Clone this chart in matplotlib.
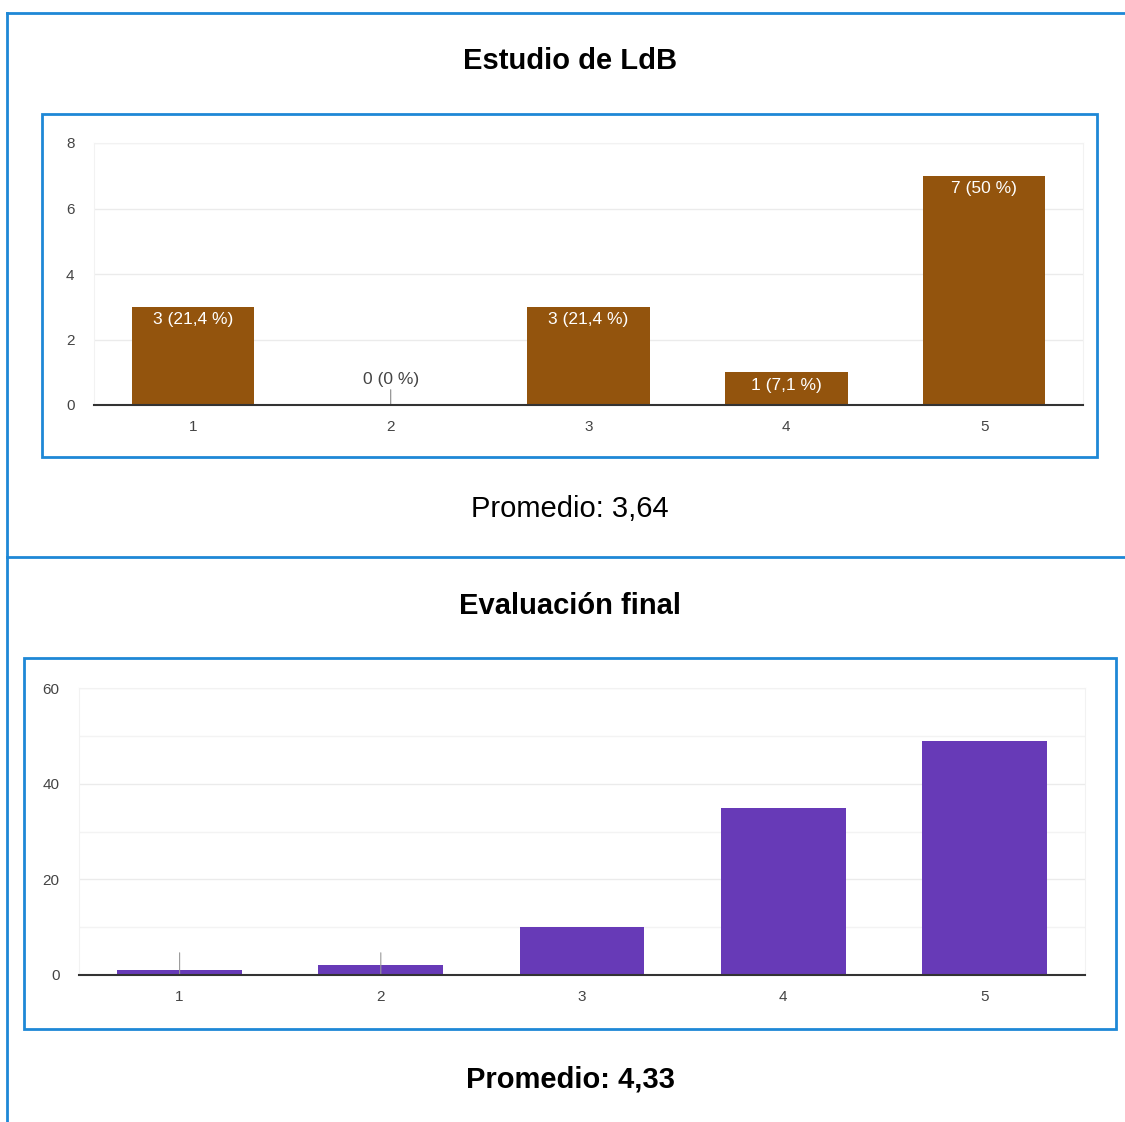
import matplotlib
matplotlib.use("Agg")
import matplotlib.pyplot as plt
from matplotlib.patches import Rectangle

plt.rcParams['font.family'] = ['Liberation Sans', 'DejaVu Sans']

# data
categories = [1, 2, 3, 4, 5]
ldb_counts = [3, 0, 3, 1, 7]
ldb_labels = ['3 (21,4 %)', '0 (0 %)', '3 (21,4 %)', '1 (7,1 %)', '7 (50 %)']
final_counts = [1, 2, 10, 35, 49]
ldb_title = 'Estudio de LdB'
ldb_mean = 'Promedio: 3,64'
final_title = 'Evaluación final'
final_mean = 'Promedio: 4,33'

W, H = 1125, 1122
blue = '#1E88D6'
tick_col = '#444444'
grid_col = '#ebebeb'

fig = plt.figure(figsize=(W / 100, H / 100), dpi=100)

# background layer in pixel coordinates (table frame, boxes, titles)
bg = fig.add_axes([0, 0, 1, 1], zorder=-1)
bg.set_xlim(0, W)
bg.set_ylim(H, 0)
bg.axis('off')
bg.plot([7, W], [13, 13], color=blue, lw=2)
bg.plot([7, 7], [13, H], color=blue, lw=2)
bg.plot([7, W], [557, 557], color=blue, lw=2)
bg.add_patch(Rectangle((42, 114), 1055, 343, fill=False, ec=blue, lw=2))
bg.add_patch(Rectangle((24, 658), 1092, 371, fill=False, ec=blue, lw=2))
bg.text(570, 61, ldb_title, ha='center', va='center', fontsize=21, fontweight='bold')
bg.text(570, 509, ldb_mean, ha='center', va='center', fontsize=21)
bg.text(570, 606, final_title, ha='center', va='center', fontsize=21, fontweight='bold')
bg.text(570, 1080, final_mean, ha='center', va='center', fontsize=21, fontweight='bold')


def style_axes(ax, ymax, step):
    ax.set_xlim(0.5, 5.5)
    ax.set_ylim(0, ymax)
    ax.set_xticks(categories)
    ax.set_yticks(range(0, ymax + 1, step))
    ax.tick_params(length=0, colors=tick_col, labelsize=11)
    ax.tick_params(axis='y', pad=14)
    ax.tick_params(axis='x', pad=11)
    ax.grid(axis='y', color=grid_col, lw=1)
    ax.set_axisbelow(True)
    for s in ['top', 'left', 'right']:
        ax.spines[s].set_color('#f2f2f2')
    ax.spines['bottom'].set_color('#333333')
    ax.spines['bottom'].set_linewidth(1.5)
    ax.spines['bottom'].set_zorder(3)


# top chart
ax1 = fig.add_axes([94 / W, 1 - 405 / H, 989 / W, 262 / H])
ax1.bar(categories, ldb_counts, width=0.62, color='#93540D', zorder=2)
style_axes(ax1, 8, 2)
for x, v, lab in zip(categories, ldb_counts, ldb_labels):
    if v > 0:
        ax1.annotate(lab, xy=(x, v), xytext=(0, -4), textcoords='offset points',
                     ha='center', va='top', color='white', fontsize=12.5)
    else:
        ax1.annotate(lab, xy=(x, v), xytext=(0, 13), textcoords='offset points',
                     ha='center', va='bottom', color=tick_col, fontsize=12.5,
                     arrowprops=dict(arrowstyle='-', color='#888888', lw=0.8,
                                     shrinkA=0, shrinkB=0))

# bottom chart
ax2 = fig.add_axes([79 / W, 1 - 975 / H, 1006 / W, 287 / H])
ax2.bar(categories, final_counts, width=0.62, color='#673AB7', zorder=2)
style_axes(ax2, 60, 20)
ax2.set_yticks(range(10, 60, 20), minor=True)
ax2.grid(axis='y', which='minor', color='#f3f3f3', lw=1)
ax2.tick_params(which='minor', length=0)
for x, v in zip(categories, final_counts):
    if v <= 2:
        ax2.annotate('', xy=(x, 0), xytext=(0, 16), textcoords='offset points',
                     arrowprops=dict(arrowstyle='-', color='#999999', lw=0.8,
                                     shrinkA=0, shrinkB=0))

fig.savefig('out.png', dpi=100, facecolor='white')
